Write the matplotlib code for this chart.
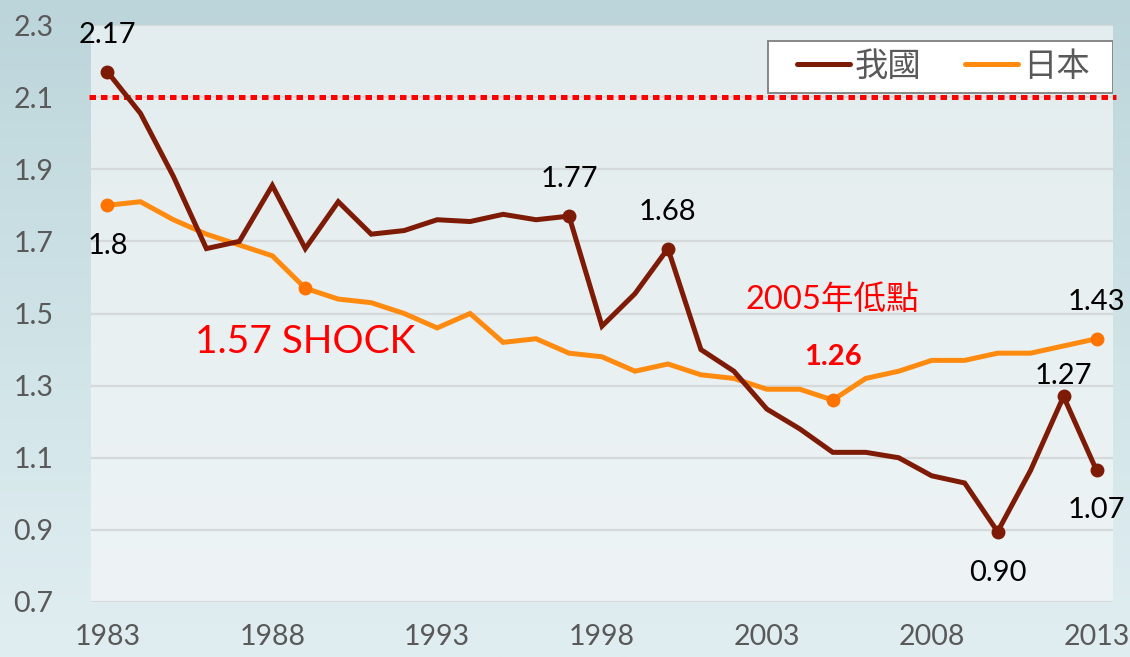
#!/usr/bin/env python3
# -*- coding: utf-8 -*-
"""Total fertility rate: Taiwan vs Japan, 1983-2013"""

import numpy as np
import matplotlib
matplotlib.use("Agg")
import matplotlib.pyplot as plt
from matplotlib.colors import LinearSegmentedColormap
from matplotlib.patches import Rectangle

plt.rcParams['font.family'] = ['Lato', 'Noto Sans CJK TC', 'DejaVu Sans']

years = list(range(1983, 2014))
taiwan = [2.17, 2.055, 1.88, 1.68, 1.70, 1.855, 1.68, 1.81, 1.72, 1.73,
          1.76, 1.755, 1.775, 1.76, 1.77, 1.465, 1.555, 1.68, 1.40, 1.34,
          1.235, 1.18, 1.115, 1.115, 1.10, 1.05, 1.03, 0.895, 1.065, 1.27,
          1.065]
japan = [1.80, 1.81, 1.76, 1.72, 1.69, 1.66, 1.57, 1.54, 1.53, 1.50,
         1.46, 1.50, 1.42, 1.43, 1.39, 1.38, 1.34, 1.36, 1.33, 1.32,
         1.29, 1.29, 1.26, 1.32, 1.34, 1.37, 1.37, 1.39, 1.39, 1.41,
         1.43]
series_names = ['我國', '日本']
xtick_years = [1983, 1988, 1993, 1998, 2003, 2008, 2013]
yticks = [0.7, 0.9, 1.1, 1.3, 1.5, 1.7, 1.9, 2.1, 2.3]
replacement_level = 2.1

# labelled points: (year, text, offset in px)
tw_labels = [(1983, '2.17', 37), (1997, '1.77', 37), (2000, '1.68', 37),
             (2010, '0.90', -41), (2012, '1.27', 20), (2013, '1.07', -40)]
jp_labels = [(1983, '1.8', -41), (2013, '1.43', 37)]
tw_marked = [1983, 1997, 2000, 2010, 2012, 2013]
jp_marked = [1983, 1989, 2005, 2013]

C_TW = '#7E1B06'
C_JP = '#FF8A10'
C_JP_MK = '#FF7400'
GRAY = '#595959'

fig = plt.figure(figsize=(11.3, 6.57), dpi=100)

# background gradient for the whole slide
bg = fig.add_axes([0, 0, 1, 1], zorder=-10)
bg_cmap = LinearSegmentedColormap.from_list('bg', ['#BCD5DA', '#CFE3E7', '#E1EEF1'])
grad = np.linspace(0, 1, 256).reshape(-1, 1)
bg.imshow(grad, aspect='auto', cmap=bg_cmap, extent=[0, 1, 0, 1], origin='upper')
bg.axis('off')

ax = fig.add_axes([91 / 1130, 55 / 657, 1022 / 1130, 577 / 657])
pa_cmap = LinearSegmentedColormap.from_list('pa', ['#E3ECEE', '#EEF4F5'])
ax.imshow(grad, aspect='auto', cmap=pa_cmap, extent=[1982.5, 2013.5, 0.7, 2.3],
          origin='upper', zorder=0)

ax.set_xlim(1982.5, 2013.5)
ax.set_ylim(0.7, 2.3)
ax.set_yticks(yticks)
ax.set_yticklabels([f'{v:.1f}' for v in yticks])
ax.set_xticks(xtick_years)
ax.tick_params(length=0, labelsize=20.5, labelcolor=GRAY)
ax.tick_params(axis='y', pad=27)
ax.tick_params(axis='x', pad=16)
for s in ax.spines.values():
    s.set_visible(False)
ax.grid(axis='y', color='#D6D9DA', linewidth=1.6, zorder=1)
ax.set_axisbelow(True)

ax.plot([1982.45, 2013.6], [replacement_level] * 2, color='#FF0000', lw=3.6,
        dashes=(1.3, 1.0), dash_capstyle='butt', clip_on=False, zorder=2)

ax.plot(years, taiwan, color=C_TW, lw=3.6, label=series_names[0], zorder=4,
        solid_joinstyle='miter', solid_capstyle='round')
ax.plot(years, japan, color=C_JP, lw=3.6, label=series_names[1], zorder=3,
        solid_joinstyle='miter', solid_capstyle='round')

tw_map = dict(zip(years, taiwan))
jp_map = dict(zip(years, japan))
ax.plot(tw_marked, [tw_map[y] for y in tw_marked], 'o', color=C_TW, ms=9, zorder=5)
ax.plot(jp_marked, [jp_map[y] for y in jp_marked], 'o', color=C_JP_MK, ms=9, zorder=5)

for yr, txt, off in tw_labels:
    ax.annotate(txt, (yr, tw_map[yr]), xytext=(0, off), textcoords='offset pixels',
                ha='center', va='center', fontsize=21, color='black')
for yr, txt, off in jp_labels:
    ax.annotate(txt, (yr, jp_map[yr]), xytext=(0, off), textcoords='offset pixels',
                ha='center', va='center', fontsize=21, color='black')

ax.annotate('1.26', (2005, jp_map[2005]), xytext=(0, 43), textcoords='offset pixels',
            ha='center', va='center', fontsize=21, fontweight='bold', color='#FF0000')
ax.annotate('2005年低點', (2005, jp_map[2005]), xytext=(0, 100),
            textcoords='offset pixels', ha='center', va='center', fontsize=23.5,
            color='#FF0000')
ax.annotate('1.57 SHOCK', (1989, jp_map[1989]), xytext=(0, -54),
            textcoords='offset pixels', ha='center', va='center', fontsize=28,
            color='#FF0000')

# legend: white box drawn separately, entries centred inside it
box = Rectangle((0.662, 0.883), 0.338, 0.090, transform=ax.transAxes,
                facecolor='white', edgecolor='#7F7F7F', lw=1.3, zorder=6)
ax.add_patch(box)
leg = ax.legend(loc='center', bbox_to_anchor=(0.834, 0.928), ncol=2,
                frameon=False, fontsize=24, handlelength=1.6, handletextpad=0.15,
                columnspacing=1.3, borderpad=0, borderaxespad=0)
leg.set_zorder(7)
for t in leg.get_texts():
    t.set_color(GRAY)
    t.set_family(['Noto Sans CJK TC'])
    t.set_fontweight('light')
for h in leg.legend_handles:
    h.set_solid_capstyle('round')

fig.savefig('out.png', dpi=100)
